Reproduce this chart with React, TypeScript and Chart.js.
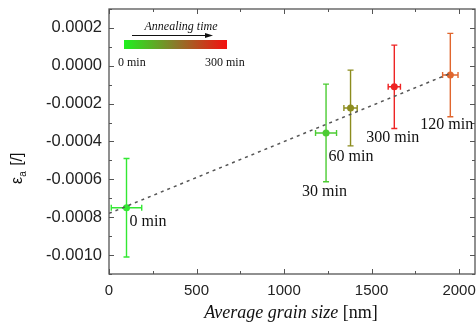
import React, { useEffect, useRef } from "react";
import { Chart, registerables } from "chart.js";

Chart.register(...registerables);

// Annealing series: grain size (nm) vs. strain, with symmetric errors
const timeLabels = ["0 min", "30 min", "60 min", "300 min", "120 min"];
const grainSize = [100, 1240, 1380, 1630, 1950];
const grainSizeErr = [87, 60, 38, 35, 44];
const strain = [-0.00075, -0.000355, -0.000223, -0.000111, -0.000049];
const strainErr = [0.00026, 0.000258, 0.0002, 0.00022, 0.00022];
const pointColors = ["#33e833", "#4ccc33", "#8c8c1e", "#ee2424", "#e0662e"];

// Linear fit through the series
const fitX = [0, 1950];
const fitY = [-0.00078, -0.00004];

// Axis ticks
const xTicks = [0, 500, 1000, 1500, 2000];
const xMinorTicks = [250, 750, 1250, 1750];
const yTicks = [-0.001, -0.0008, -0.0006, -0.0004, -0.0002, 0, 0.0002];
const yMinorTicks = [-0.0011, -0.0009, -0.0007, -0.0005, -0.0003, -0.0001, 0.0001, 0.0003];

// Colour-bar legend ends
const legendTitle = "Annealing time";
const legendStart = "0 min";
const legendEnd = "300 min";

// Pixel offsets of each point's text from its marker
const LABEL_OFFSETS: [number, number][] = [
  [3, 14],
  [-24, 59],
  [-22, 49],
  [-28, 51],
  [-30, 50],
];

const SERIF = '"Liberation Serif", "Times New Roman", serif';
const SANS = '"Liberation Sans", Arial, sans-serif';

const errorBarPlugin = {
  id: "errorBars",
  beforeDatasetsDraw(chart: any) {
    const { ctx, scales } = chart;
    const xs = scales.x;
    const ys = scales.y;
    ctx.save();
    ctx.lineWidth = 1.4;
    for (let i = 0; i < grainSize.length; i++) {
      const cx = xs.getPixelForValue(grainSize[i]);
      const cy = ys.getPixelForValue(strain[i]);
      const x0 = xs.getPixelForValue(grainSize[i] - grainSizeErr[i]);
      const x1 = xs.getPixelForValue(grainSize[i] + grainSizeErr[i]);
      const y0 = ys.getPixelForValue(strain[i] + strainErr[i]);
      const y1 = ys.getPixelForValue(strain[i] - strainErr[i]);
      ctx.strokeStyle = pointColors[i];
      ctx.beginPath();
      ctx.moveTo(cx, y0);
      ctx.lineTo(cx, y1);
      ctx.moveTo(cx - 3, y0);
      ctx.lineTo(cx + 3, y0);
      ctx.moveTo(cx - 3, y1);
      ctx.lineTo(cx + 3, y1);
      ctx.moveTo(x0, cy);
      ctx.lineTo(x1, cy);
      ctx.moveTo(x0, cy - 3);
      ctx.lineTo(x0, cy + 3);
      ctx.moveTo(x1, cy - 3);
      ctx.lineTo(x1, cy + 3);
      ctx.stroke();
    }
    ctx.restore();
  },
};

const decorPlugin = {
  id: "decor",
  afterDraw(chart: any) {
    const { ctx, chartArea, scales } = chart;
    const { left, right, top, bottom } = chartArea;
    const xs = scales.x;
    const ys = scales.y;
    ctx.save();

    // frame
    ctx.strokeStyle = "#555";
    ctx.lineWidth = 1.3;
    ctx.strokeRect(left, top, right - left, bottom - top);

    // inward ticks on all four sides
    ctx.lineWidth = 1;
    ctx.beginPath();
    const xTick = (v: number, len: number) => {
      const px = Math.round(xs.getPixelForValue(v)) + 0.5;
      ctx.moveTo(px, bottom);
      ctx.lineTo(px, bottom - len);
      ctx.moveTo(px, top);
      ctx.lineTo(px, top + len);
    };
    const yTick = (v: number, len: number) => {
      const py = Math.round(ys.getPixelForValue(v)) + 0.5;
      ctx.moveTo(left, py);
      ctx.lineTo(left + len, py);
      ctx.moveTo(right, py);
      ctx.lineTo(right - len, py);
    };
    xTicks.forEach((v) => xTick(v, 5));
    xMinorTicks.forEach((v) => xTick(v, 3));
    yTicks.forEach((v) => yTick(v, 5));
    yMinorTicks.forEach((v) => yTick(v, 3));
    ctx.stroke();

    // point labels
    ctx.fillStyle = "#111";
    ctx.font = `16px ${SERIF}`;
    ctx.textAlign = "left";
    ctx.textBaseline = "middle";
    for (let i = 0; i < timeLabels.length; i++) {
      const px = xs.getPixelForValue(grainSize[i]);
      const py = ys.getPixelForValue(strain[i]);
      ctx.fillText(timeLabels[i], px + LABEL_OFFSETS[i][0], py + LABEL_OFFSETS[i][1]);
    }

    // x-axis title: italic words plus upright unit
    const titleY = 318;
    ctx.textBaseline = "alphabetic";
    ctx.font = `italic 18px ${SERIF}`;
    const part1 = "Average grain size ";
    const w1 = ctx.measureText(part1).width;
    ctx.font = `18px ${SERIF}`;
    const part2 = "[nm]";
    const w2 = ctx.measureText(part2).width;
    const startX = 291 - (w1 + w2) / 2;
    ctx.font = `italic 18px ${SERIF}`;
    ctx.fillText(part1, startX, titleY);
    ctx.font = `18px ${SERIF}`;
    ctx.fillText(part2, startX + w1, titleY);

    // y-axis title: ε with subscript a, then [/]
    ctx.save();
    ctx.translate(22, 184);
    ctx.rotate(-Math.PI / 2);
    ctx.font = `16px ${SANS}`;
    ctx.fillText("ε", 0, 0);
    const we = ctx.measureText("ε").width;
    ctx.font = `10px ${SANS}`;
    ctx.fillText("a", we, 4);
    const wa = ctx.measureText("a").width;
    ctx.font = `16px ${SANS}`;
    ctx.fillText(" [/]", we + wa + 1, 0);
    ctx.restore();

    // colour-bar legend
    const gx0 = 124;
    const gx1 = 227;
    const gy0 = 40;
    const gy1 = 49;
    const grad = ctx.createLinearGradient(gx0, 0, gx1, 0);
    grad.addColorStop(0, "#1ef01e");
    grad.addColorStop(0.5, "#8a7a2a");
    grad.addColorStop(1, "#f41010");
    ctx.fillStyle = grad;
    ctx.fillRect(gx0, gy0, gx1 - gx0, gy1 - gy0);

    ctx.fillStyle = "#111";
    ctx.font = `italic 12px ${SERIF}`;
    ctx.textAlign = "center";
    ctx.textBaseline = "alphabetic";
    ctx.fillText(legendTitle, 181, 30);

    ctx.strokeStyle = "#111";
    ctx.lineWidth = 1;
    ctx.beginPath();
    ctx.moveTo(132, 35.5);
    ctx.lineTo(211, 35.5);
    ctx.stroke();
    ctx.beginPath();
    ctx.moveTo(213, 35.5);
    ctx.lineTo(205, 33);
    ctx.lineTo(205, 38);
    ctx.closePath();
    ctx.fill();

    ctx.font = `12px ${SERIF}`;
    ctx.textAlign = "left";
    ctx.fillText(legendStart, 118, 66);
    ctx.fillText(legendEnd, 205, 66);

    ctx.restore();
  },
};

export default function App() {
  const canvasRef = useRef<HTMLCanvasElement>(null);

  useEffect(() => {
    if (!canvasRef.current) return;
    const chart = new Chart(canvasRef.current, {
      type: "scatter",
      data: {
        datasets: [
          {
            type: "line",
            data: fitX.map((x, i) => ({ x, y: fitY[i] })),
            borderColor: "#555",
            borderWidth: 1.5,
            borderDash: [3, 4],
            pointRadius: 0,
            fill: false,
          } as any,
          {
            data: grainSize.map((x, i) => ({ x, y: strain[i] })),
            pointRadius: 3.5,
            pointBackgroundColor: pointColors,
            pointBorderColor: pointColors,
            pointBorderWidth: 0,
          },
        ],
      },
      options: {
        responsive: false,
        animation: false,
        devicePixelRatio: 1,
        layout: { autoPadding: false, padding: { top: 9, right: 1, left: 0, bottom: 0 } },
        plugins: {
          legend: { display: false },
          tooltip: { enabled: false },
        },
        scales: {
          x: {
            type: "linear",
            min: 0,
            max: 2091,
            grid: { display: false, drawTicks: false },
            border: { display: false },
            afterBuildTicks: (s: any) => {
              s.ticks = xTicks.map((v) => ({ value: v }));
            },
            afterFit: (s: any) => {
              s.height = 52;
              s.paddingLeft = 0;
              s.paddingRight = 0;
            },
            ticks: {
              color: "#222",
              font: { family: SANS, size: 15 },
              padding: 8,
              maxRotation: 0,
              autoSkip: false,
              callback: (v: any) => String(v),
            },
          },
          y: {
            type: "linear",
            min: -0.0011,
            max: 0.0003,
            grid: { display: false, drawTicks: false },
            border: { display: false },
            afterBuildTicks: (s: any) => {
              s.ticks = yTicks.map((v) => ({ value: v }));
            },
            afterFit: (s: any) => {
              s.width = 109;
              s.paddingTop = 0;
              s.paddingBottom = 0;
            },
            ticks: {
              color: "#222",
              font: { family: SANS, size: 16.5 },
              padding: 7,
              autoSkip: false,
              callback: (v: any) => Number(v).toFixed(4),
            },
          },
        },
      },
      plugins: [errorBarPlugin, decorPlugin],
    });
    return () => chart.destroy();
  }, []);

  return (
    <div style={{ position: "fixed", left: 0, top: 0, width: 476, height: 326, background: "#fff" }}>
      <canvas ref={canvasRef} width={476} height={326} style={{ display: "block" }} />
    </div>
  );
}
